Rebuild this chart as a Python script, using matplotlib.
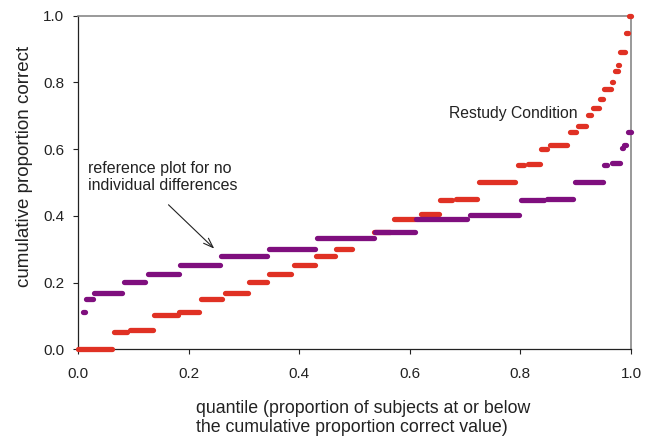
import matplotlib
matplotlib.use("Agg")
import matplotlib.pyplot as plt
from matplotlib.ticker import FormatStrFormatter

plt.rcParams['font.family'] = ['Liberation Sans', 'DejaVu Sans']

# Restudy condition (red): step segments (quantile start, quantile end, value)
red_x_start = [0.000, 0.065, 0.094, 0.138, 0.183, 0.222, 0.265, 0.310, 0.346, 0.391,
               0.431, 0.466, 0.535, 0.571, 0.621, 0.655, 0.683, 0.726, 0.795, 0.813,
               0.838, 0.853, 0.889, 0.905, 0.923, 0.932, 0.944, 0.952, 0.965, 0.971,
               0.977, 0.981, 0.991, 0.996]
red_x_end = [0.062, 0.089, 0.136, 0.180, 0.219, 0.261, 0.307, 0.341, 0.386, 0.428,
             0.464, 0.495, 0.565, 0.610, 0.653, 0.677, 0.722, 0.791, 0.807, 0.835,
             0.849, 0.885, 0.900, 0.918, 0.928, 0.942, 0.950, 0.964, 0.968, 0.976,
             0.979, 0.990, 0.995, 1.000]
red_y = [0.000, 0.051, 0.058, 0.103, 0.113, 0.152, 0.169, 0.203, 0.225, 0.252,
         0.280, 0.302, 0.353, 0.391, 0.405, 0.447, 0.451, 0.502, 0.552, 0.556,
         0.601, 0.612, 0.651, 0.668, 0.701, 0.724, 0.751, 0.779, 0.802, 0.834,
         0.852, 0.890, 0.949, 1.000]

# Reference plot for no individual differences (purple)
pur_x_start = [0.000, 0.004, 0.009, 0.014, 0.029, 0.084, 0.126, 0.185, 0.258, 0.346,
               0.433, 0.537, 0.612, 0.709, 0.801, 0.849, 0.899, 0.951, 0.965, 0.983,
               0.987, 0.994]
pur_x_end = [0.000, 0.004, 0.012, 0.028, 0.080, 0.121, 0.182, 0.256, 0.341, 0.429,
             0.536, 0.609, 0.704, 0.798, 0.843, 0.896, 0.949, 0.957, 0.980, 0.986,
             0.991, 1.000]
pur_y = [0.058, 0.103, 0.113, 0.151, 0.168, 0.203, 0.225, 0.252, 0.280, 0.302,
         0.335, 0.353, 0.391, 0.403, 0.447, 0.451, 0.502, 0.552, 0.557, 0.602,
         0.612, 0.652]

ticks = [0.0, 0.2, 0.4, 0.6, 0.8, 1.0]

RED = '#E03124'
PURPLE = '#7F0F7E'
TXT = '#222222'

fig = plt.figure(figsize=(6.54, 4.36), dpi=100)
ax = fig.add_axes([78/654, 1-349.3/436, 553/654, 333.6/436])

lw = 3.8
for xs, xe, y in zip(red_x_start, red_x_end, red_y):
    ax.plot([xs, xe], [y, y], color=RED, lw=lw, solid_capstyle='round',
            clip_on=False, zorder=3)
for xs, xe, y in zip(pur_x_start, pur_x_end, pur_y):
    ax.plot([xs, xe], [y, y], color=PURPLE, lw=lw, solid_capstyle='round',
            clip_on=False, zorder=4)

ax.set_xlim(0, 1)
ax.set_ylim(0, 1)
ax.set_xticks(ticks)
ax.set_yticks(ticks)
ax.xaxis.set_major_formatter(FormatStrFormatter('%.1f'))
ax.yaxis.set_major_formatter(FormatStrFormatter('%.1f'))
ax.tick_params(axis='both', direction='out', length=3.5, width=0.8,
               labelsize=11, colors=TXT)
ax.tick_params(axis='x', pad=9)
ax.tick_params(axis='y', pad=6.5)

for s in ['left', 'bottom']:
    ax.spines[s].set_color(TXT)
    ax.spines[s].set_linewidth(0.9)
for s in ['top', 'right']:
    ax.spines[s].set_color('#888888')
    ax.spines[s].set_linewidth(1.2)

ax.text(0.018, 0.517, 'reference plot for no\nindividual differences', fontsize=11.5,
        ha='left', va='center', color=TXT, linespacing=1.15)
ax.annotate('', xy=(0.250, 0.296), xytext=(0.160, 0.439),
            arrowprops=dict(arrowstyle='->,head_length=0.7,head_width=0.25',
                            lw=0.8, color=TXT))
ax.text(0.670, 0.707, 'Restudy Condition', fontsize=11.3, ha='left', va='center',
        color=TXT)

fig.text(196/654, 1-418/436,
         'quantile (proportion of subjects at or below\nthe cumulative proportion correct value)',
         fontsize=12.8, ha='left', va='center', color=TXT, linespacing=1.2)
fig.text(25/654, 1-166/436, 'cumulative proportion correct', fontsize=13.5,
         rotation=90, ha='center', va='center', color=TXT)

fig.savefig('out.png', dpi=100)
